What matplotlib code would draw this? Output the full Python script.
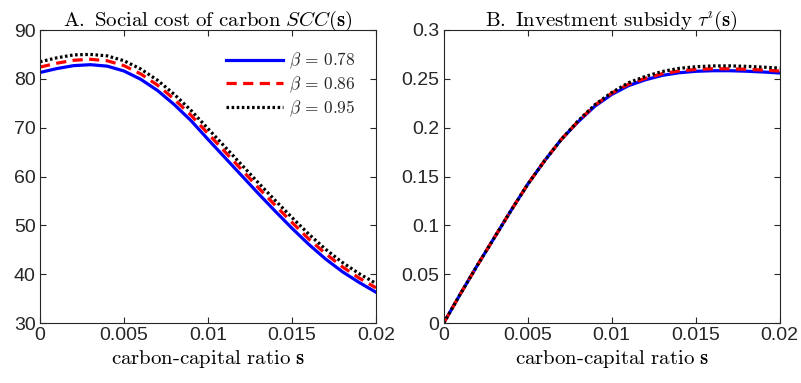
import numpy as np
import matplotlib
matplotlib.use("Agg")
import matplotlib.pyplot as plt

plt.rcParams['mathtext.fontset'] = 'cm'
plt.rcParams['font.family'] = ['Liberation Sans', 'DejaVu Sans']

s = [0.000, 0.001, 0.002, 0.003, 0.004, 0.005, 0.006, 0.007, 0.008, 0.009, 0.010,
     0.011, 0.012, 0.013, 0.014, 0.015, 0.016, 0.017, 0.018, 0.019, 0.020]

scc_078 = [81.3, 82.1, 82.7, 82.9, 82.6, 81.6, 79.9, 77.6, 74.7, 71.4, 67.6,
           63.9, 60.2, 56.5, 52.9, 49.4, 46.1, 43.1, 40.5, 38.3, 36.3]
scc_086 = [82.4, 83.2, 83.8, 84.0, 83.7, 82.7, 81.0, 78.7, 75.8, 72.5, 68.8,
           65.1, 61.4, 57.7, 54.1, 50.6, 47.2, 44.2, 41.5, 39.2, 37.2]
scc_095 = [83.5, 84.3, 84.9, 85.0, 84.7, 83.7, 82.0, 79.7, 76.8, 73.5, 69.8,
           66.1, 62.4, 58.7, 55.1, 51.6, 48.2, 45.1, 42.4, 40.1, 38.1]

tau_078 = [0.000, 0.030, 0.059, 0.087, 0.115, 0.142, 0.166, 0.188, 0.206, 0.222, 0.234,
           0.243, 0.249, 0.2535, 0.2562, 0.2577, 0.2583, 0.2583, 0.2578, 0.2570, 0.2560]
tau_086 = [0.000, 0.030, 0.059, 0.087, 0.115, 0.142, 0.166, 0.188, 0.2065, 0.223, 0.2353,
           0.2445, 0.2505, 0.2552, 0.2580, 0.2596, 0.2603, 0.2603, 0.2598, 0.2590, 0.2580]
tau_095 = [0.000, 0.030, 0.059, 0.087, 0.115, 0.142, 0.166, 0.188, 0.207, 0.2235, 0.236,
           0.246, 0.2525, 0.2575, 0.2607, 0.2624, 0.2632, 0.2633, 0.2628, 0.2620, 0.2610]

labels = [r'$\beta\,=\,0.78$', r'$\beta\,=\,0.86$', r'$\beta\,=\,0.95$']
xticks = [0, 0.005, 0.01, 0.015, 0.02]
xticklabels = ['0', '0.005', '0.01', '0.015', '0.02']

fig = plt.figure(figsize=(8.01, 3.83), dpi=100)
ax1 = fig.add_axes([40/801, 60/383, 336/801, 293/383])
ax2 = fig.add_axes([443.7/801, 60/383, 336/801, 293/383])

styles = [dict(color='#0000ff', lw=2.3, ls='-'),
          dict(color='#ff0000', lw=2.3, ls=(0, (3.2, 2.0))),
          dict(color='black', lw=2.3, ls=(0, (0.8, 0.8)))]

for ax, data in [(ax1, [scc_078, scc_086, scc_095]), (ax2, [tau_078, tau_086, tau_095])]:
    for y, st, lab in zip(data, styles, labels):
        ax.plot(s, y, label=lab, **st)
    ax.set_xlim(0, 0.02)
    ax.set_xticks(xticks)
    ax.set_xticklabels(xticklabels)
    ax.tick_params(direction='in', top=True, right=True, length=4, width=0.8,
                   labelsize=14, colors='#262626', pad=3)
    for sp in ax.spines.values():
        sp.set_color('#262626')
        sp.set_linewidth(0.8)
    ax.set_xlabel(r'$\mathrm{carbon\text{-}capital\ ratio}\ \mathbf{s}$', fontsize=15, labelpad=3)

ax1.set_ylim(30, 90)
ax1.set_yticks(range(30, 91, 10))
ax2.set_ylim(0, 0.3)
ax2.set_yticks([0, 0.05, 0.1, 0.15, 0.2, 0.25, 0.3])
ax2.set_yticklabels(['0', '0.05', '0.1', '0.15', '0.2', '0.25', '0.3'])

ax1.set_title(r'$\mathrm{A.\ Social\ cost\ of\ carbon}\ SCC(\mathbf{s})$', fontsize=15, pad=3)
ax2.set_title(r'$\mathrm{B.\ Investment\ subsidy}\ \tau^{\imath}(\mathbf{s})$', fontsize=15, pad=3)

leg = ax1.legend(loc='upper right', frameon=False, fontsize=12.5, handlelength=3.3,
                 handletextpad=0.3, labelspacing=0.2, borderaxespad=0.8,
                 bbox_to_anchor=(1.0, 1.0))
for t in leg.get_texts():
    t.set_color('#262626')

fig.savefig('out.png', dpi=100)
